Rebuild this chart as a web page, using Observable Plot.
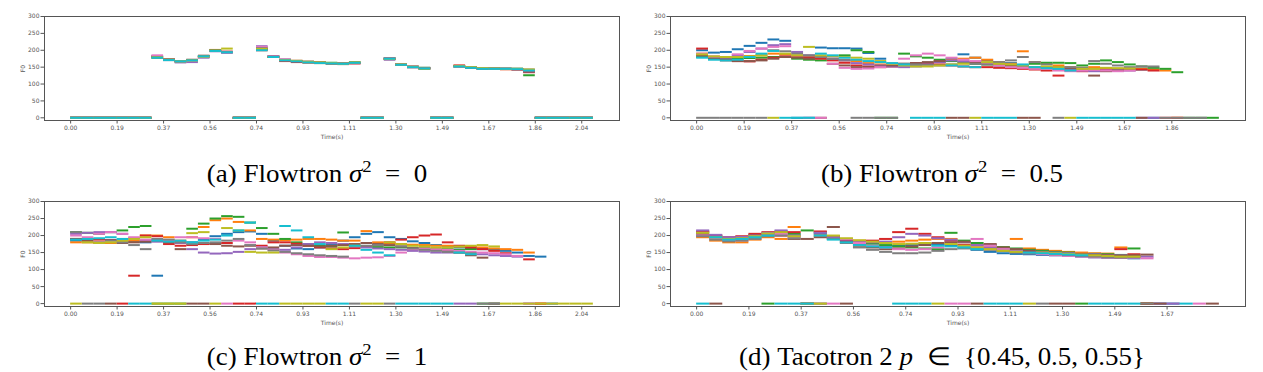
<!DOCTYPE html>
<html><head><meta charset="utf-8">
<script src="https://cdn.jsdelivr.net/npm/d3@7"></script>
<script src="https://cdn.jsdelivr.net/npm/@observablehq/plot@0.6"></script>
<style>
body{margin:0;background:#fff;}
#wrap{position:relative;width:1263px;height:372px;overflow:hidden;background:#fff;}
.panel{position:absolute;}
#caps{position:absolute;left:0;top:0;}
</style></head><body><div id="wrap"></div>
<script>
const _ = null;
// one sample = 4 mel frames (hop 256 @ 22050 Hz); ticks every 16 frames
const sampleSec = 4 * 256 / 22050;
const tickSec = 16 * 256 / 22050;
const tickLabels = ["0.00","0.19","0.37","0.56","0.74","0.93","1.11","1.30","1.49","1.67","1.86","2.04"];
const yTicks = [0, 50, 100, 150, 200, 250, 300];

// (a) Flowtron sigma^2 = 0  — F0 per sample, 0 = unvoiced, null = past end
const fA = [
[0,0,0,0,0,0,0, 178,171,167,171,183,200,194, 0,0, 204,182,172,167,165,163,161,160,163, 0,0, 176,157,150,146, 0,0, 152,148,146,146,145,145,141, 0,0,0,0,0],
[0,0,0,0,0,0,0, 181,172,168,170,182,201,196, 0,0, 207,180,171,168,164,162,161,160,162, 0,0, 174,158,151,147, 0,0, 154,149,145,145,144,143,138, 0,0,0,0,0],
[0,0,0,0,0,0,0, 179,173,168,170,181,200,195, 0,0, 203,181,170,167,166,164,163,161,164, 0,0, 177,159,152,148, 0,0, 153,150,147,146,145,145,126, 0,0,0,0,0],
[0,0,0,0,0,0,0, 182,174,167,169,180,198,194, 0,0, 200,180,168,165,164,163,162,160,161, 0,0, 175,158,150,146, 0,0, 155,150,146,145,144,143,135, 0,0,0,0,0],
[0,0,0,0,0,0,0, 183,172,164,165,178,197,193, 0,0, 212,182,171,168,166,164,162,160,162, 0,0, 172,157,151,147, 0,0, 153,149,146,145,145,144,137, 0,0,0,0,0],
[0,0,0,0,0,0,0, 180,171,167,172,184,199,195, 0,0, 205,181,172,168,165,163,161,159,163, 0,0, 174,158,150,146, 0,0, 153,148,146,146,145,144,137, 0,0,0,0,0],
[0,0,0,0,0,0,0, 185,172,167,168,180,198,196, 0,0, 210,182,173,169,166,163,162,160,162, 0,0, 176,158,152,147, 0,0, 152,149,147,146,145,144,141, 0,0,0,0,0],
[0,0,0,0,0,0,0, 180,173,168,170,182,199,195, 0,0, 206,181,171,168,165,164,162,160,163, 0,0, 175,157,151,148, 0,0, 152,148,146,146,146,145,143, 0,0,0,0,0],
[0,0,0,0,0,0,0, 179,172,167,170,181,199,205, 0,0, 204,180,171,169,166,164,162,160,164, 0,0, 174,158,151,145, 0,0, 153,150,147,146,145,145,143, 0,0,0,0,0],
[0,0,0,0,0,0,0, 178,171,167,170,182,198,194, 0,0, 200,180,170,167,164,162,161,160,163, 0,0, 175,157,150,146, 0,0, 152,148,145,145,145,144,140, 0,0,0,0,0]
];

// (b) Flowtron sigma^2 = 0.5
const fB = [
[200,193,195,203,213,222,232,228,0,0, 208,206,206,205,192,175,160,155,155,160, 165,175,188,178,170,165,162,155,150,148, 145,143,142,145,143,140,145,143,0,_, _,_,_,_,_],
[190,180,178,180,183,185,190,188,183,182, 180,175,170,168,162,158,157,158,160,162, 168,172,175,178,172,165,160,197,165,160, 155,150,148,150,147,145,145,145,143,140, 0,_,_,_,_],
[180,176,175,175,177,178,180,180,175,172, 170,172,185,200,195,0,0,190,182,178, 172,168,165,160,158,155,153,150,160,163, 163,162,155,160,170,165,158,152,148,145, 135,0,0,0,_],
[205,175,172,168,167,172,178,182,180,178, 175,170,163,155,152,150,152,158,162,160, 158,155,152,150,150,148,147,145,143,140, 125,140,138,140,142,144,145,143,140,0, 0,_,_,_,_],
[185,180,178,185,195,205,215,218,195,185, 180,175,170,162,158,155,152,150,152,158, 165,170,168,165,160,155,157,150,148,146, 145,143,140,138,140,142,140,0,0,_, _,_,_,_,_],
[185,175,170,168,168,170,175,180,178,175, 0,160,155,150,150,152,155,160,162,165, 168,0,0,165,160,158,155,0,0,148, 150,147,145,125,138,140,142,0,_,_, _,_,_,_,_],
[190,182,180,188,198,205,210,212,185,0, 0,160,148,145,146,150,160,175,185,190, 185,178,172,168,160,155,150,148,145,145, 140,138,140,142,140,138,140,_,_,_, _,_,_,_,_],
[0,0,0,0,0,0,200,197,190,185, 180,175,172,0,0,0,0,160,158,157, 155,158,162,160,158,165,170,180,165,158, 0,150,148,168,160,155,150,152,152,0, 0,0,0,_,_],
[188,182,180,180,182,185,0,190,185,210, 185,183,180,178,175,168,160,155,152,152, 155,158,160,0,165,160,158,155,150,152, 150,0,145,145,148,147,146,_,_,_, _,_,_,_,_],
[178,172,170,172,180,190,198,0,0,0, 190,185,178,172,168,165,162,158,0,0, 0,155,152,150,0,0,0,158,150,147, 145,140,0,0,0,0,0,_,_,_, _,_,_,_,_]
];

// (c) Flowtron sigma^2 = 1
const fC = [
[185,188,190,187,185,182,180,82,185,182, 180,188,198,205,210,212,205,185,170,162, 160,165,172,185,195,205,210,195,190,183, 178,172,168,165,162,160,158,155,150,140, 138,0,_,_,_],
[180,180,178,178,180,185,200,200,195,185, 195,225,245,250,240,215,190,188,186,188, 190,190,188,185,185,213,180,178,175,173, 172,170,170,168,168,165,162,160,158,150, 0,_,_,_,_],
[210,208,205,210,215,225,228,0,0,0, 220,235,250,257,255,238,222,205,190,180, 175,170,168,209,170,168,166,165,165,164, 163,160,160,158,160,0,0,_,_,_, _,_,_,_,_],
[190,190,188,186,0,82,200,198,175,170, 172,175,176,178,0,0,170,180,180,176, 170,165,162,160,163,168,172,180,188,195, 200,203,180,170,165,160,155,148,140,130, 0,_,_,_,_],
[205,208,210,210,205,192,186,182,185,178, 160,150,147,148,152,160,165,160,158,165, 175,180,178,175,168,165,162,160,158,155, 153,150,150,0,0,145,142,140,138,0, _,_,_,_,_],
[190,185,180,0,178,180,182,186,180,160, 0,0,175,170,168,170,162,165,170,172, 170,168,170,172,175,178,175,172,168,163, 160,158,155,150,142,135,0,_,_,_, _,_,_,_,_],
[200,195,205,210,205,195,188,190,185,195, 195,192,190,0,185,180,165,158,150,145, 140,137,137,135,133,135,136,140,150,160, 162,160,158,155,152,150,148,145,140,0, _,_,_,_,_],
[210,0,0,185,180,172,160,190,188,180, 175,178,180,185,190,172,162,156,152,148, 145,142,140,138,0,170,172,0,168,162, 158,155,152,150,148,0,0,_,_,_, _,_,_,_,_],
[0,180,178,180,185,190,195,0,0,0, 207,210,0,222,215,152,150,150,0,0, 0,0,160,165,170,0,0,180,175,170, 168,165,165,168,170,172,168,0,0,0, 0,0,0,0,0],
[188,190,192,195,190,0,0,185,182,185, 180,185,188,200,215,238,0,0,228,215, 195,175,0,0,170,158,150,142,0,0, 0,0,0,150,145,_,_,_,_,_, _,_,_,_,_]
];

// (d) Tacotron 2, p in {0.45, 0.5, 0.55}
const fD = [
[200,192,188,190,196,205,208,200,0,205, 192,182,175,170,168,170,172,175,175,172, 165,158,152,148,146,145,143,142,140,138, 136,135,134,133,0,0,0,_,_,_, _,_,_,_,_],
[195,185,180,180,188,195,190,225,0,200, 198,190,185,182,180,182,185,188,190,190, 180,172,168,165,190,162,158,155,152,150, 148,147,165,138,0,_,_,_,_,_, _,_,_,_,_],
[210,198,192,195,202,0,212,205,215,210, 198,188,180,176,172,168,165,162,160,208, 185,178,172,166,162,158,155,152,150,0, 146,145,143,162,0,_,_,_,_,_, _,_,_,_,_],
[212,200,195,198,205,210,200,210,0,212, 195,185,182,185,190,210,220,205,195,185, 172,165,160,155,152,150,148,146,145,143, 140,140,160,145,0,_,_,_,_,_, _,_,_,_,_],
[215,202,195,196,200,208,215,200,0,208, 195,188,184,180,182,195,205,200,192,188, 180,172,165,160,158,155,152,150,148,146, 145,143,142,140,138,0,0,_,_,_, _,_,_,_,_],
[205,0,185,188,195,203,210,190,190,195, 225,0,170,165,160,162,168,172,178,180, 182,0,175,165,160,155,150,0,0,145, 143,142,141,142,144,0,_,_,_,0, _,_,_,_,_],
[200,190,185,186,192,200,205,195,0,0, 0,190,178,170,165,160,158,160,165,0, 0,190,170,160,152,148,145,142,140,138, 136,135,134,135,133,_,_,_,0,_, _,_,_,_,_],
[198,188,183,185,190,198,200,192,0,0, 190,178,165,158,152,148,148,150,155,160, 162,160,158,155,150,148,0,145,143,140, 138,136,135,137,0,_,_,_,_,_, _,_,_,_,_],
[208,195,190,192,198,206,210,198,0,0, 200,192,186,182,178,175,176,178,0,175, 170,165,160,155,152,0,150,148,146,144, 142,140,138,138,_,_,_,_,_,_, _,_,_,_,_],
[0,195,188,190,195,200,0,0,0,200, 188,180,172,168,165,0,0,0,170,168, 165,160,0,0,0,150,148,146,144,142, 0,0,0,0,_,_,_,0,_,_, _,_,_,_,_]
];

const captionPrefix = ["(a) Flowtron ", "(b) Flowtron ", "(c) Flowtron ", "(d) Tacotron 2 "];
const captionVar = ["σ", "σ", "σ", "p"];
const captionSup = ["2", "2", "2", ""];
const captionRel = ["=", "=", "=", "∈"];
const captionRhs = ["0", "0.5", "1", "{0.45, 0.5, 0.55}"];
const tickCounts = [12, 11, 12, 10];

const panels = [
  {f: fA, left: 0, top: 0, h: 145, fh: 104, ymin: -8},
  {f: fB, left: 626, top: 0, h: 145, fh: 104, ymin: -8},
  {f: fC, left: 0, top: 185, h: 146, fh: 105, ymin: -8.5},
  {f: fD, left: 626, top: 185, h: 146, fh: 105, ymin: -8.5}
];

function toRows(series) {
  const out = [];
  series.forEach((s, k) => s.forEach((v, i) => {
    if (v != null) out.push({k, t0: i * sampleSec, t1: (i + 1) * sampleSec, f0: v});
  }));
  return out;
}

const wrap = document.getElementById("wrap");
panels.forEach((p, j) => {
  const data = toRows(p.f);
  const end = d3.max(data, d => d.t1);
  const ticks = d3.range(tickCounts[j]).map(i => i * tickSec);
  const chart = Plot.plot({
    width: 625, height: p.h,
    marginLeft: 44, marginRight: 6, marginTop: 16, marginBottom: p.h - 16 - p.fh,
    style: {fontFamily: "DejaVu Sans", fontSize: "6px", color: "#555", background: "transparent", overflow: "visible"},
    x: {domain: [-0.05 * end, 1.05 * end]},
    y: {domain: [p.ymin, 300]},
    color: {type: "ordinal", domain: d3.range(10), range: d3.schemeCategory10},
    marks: [
      Plot.ruleY(data, {y: "f0", x1: "t0", x2: "t1", stroke: "k", strokeWidth: 2}),
      Plot.frame({stroke: "#555", strokeWidth: 1}),
      Plot.axisX({ticks, tickFormat: d => tickLabels[Math.round(d / tickSec)], tickSize: 3.5, tickPadding: 1.5,
        label: "Time(s)", labelAnchor: "center", labelArrow: "none", labelOffset: 18}),
      Plot.axisY({ticks: yTicks, tickSize: 3.5, tickPadding: 1.5,
        label: "F0", labelAnchor: "center", labelArrow: "none", labelOffset: 24})
    ]
  });
  chart.classList.add("panel");
  chart.style.left = p.left + "px";
  chart.style.top = p.top + "px";
  wrap.appendChild(chart);
});

const caps = d3.select(wrap).append("svg").attr("id", "caps").attr("width", 1263).attr("height", 372);
const capX = [317, 942, 317, 942];
const capY = [181.5, 181.5, 365, 365];
captionPrefix.forEach((pre, j) => {
  const t = caps.append("text")
    .attr("transform", `translate(${capX[j]},${capY[j]}) scale(1.1,1)`)
    .attr("text-anchor", "middle")
    .attr("font-family", "Liberation Serif, serif").attr("font-size", 24.5).attr("fill", "#000");
  t.append("tspan").text(pre.replace(/ /g, "\u00a0"));
  t.append("tspan").attr("font-style", "italic").text(captionVar[j]);
  if (captionSup[j]) t.append("tspan").attr("font-size", 17).attr("dy", -10).text(captionSup[j]);
  t.append("tspan").attr("dy", captionSup[j] ? 10 : 0).text("\u2002" + captionRel[j] + "\u2002" + captionRhs[j]);
});
</script>
</body></html>
